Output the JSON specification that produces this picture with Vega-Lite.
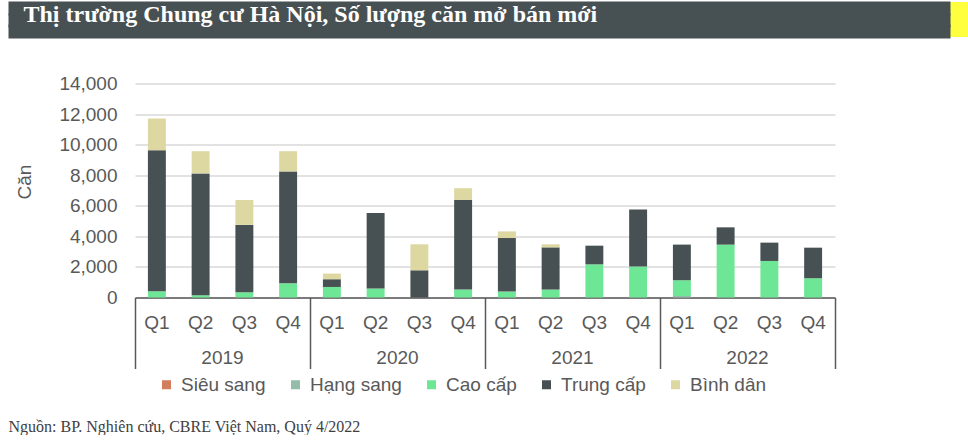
{
  "$schema": "https://vega.github.io/schema/vega-lite/v6.json",
  "padding": {"left": 1, "top": 1, "right": 0, "bottom": 0},
  "spacing": 36.5,
  "background": "white",
  "datasets": {
    "units": [
      {"yq": "2019-Q1", "year": "2019", "seg": "Cao cấp", "v": 410},
      {"yq": "2019-Q1", "year": "2019", "seg": "Trung cấp", "v": 9225},
      {"yq": "2019-Q1", "year": "2019", "seg": "Bình dân", "v": 2075},
      {"yq": "2019-Q2", "year": "2019", "seg": "Cao cấp", "v": 150},
      {"yq": "2019-Q2", "year": "2019", "seg": "Trung cấp", "v": 7970},
      {"yq": "2019-Q2", "year": "2019", "seg": "Bình dân", "v": 1450},
      {"yq": "2019-Q3", "year": "2019", "seg": "Cao cấp", "v": 345},
      {"yq": "2019-Q3", "year": "2019", "seg": "Trung cấp", "v": 4405},
      {"yq": "2019-Q3", "year": "2019", "seg": "Bình dân", "v": 1630},
      {"yq": "2019-Q4", "year": "2019", "seg": "Cao cấp", "v": 930},
      {"yq": "2019-Q4", "year": "2019", "seg": "Trung cấp", "v": 7320},
      {"yq": "2019-Q4", "year": "2019", "seg": "Bình dân", "v": 1320},
      {"yq": "2020-Q1", "year": "2020", "seg": "Cao cấp", "v": 690},
      {"yq": "2020-Q1", "year": "2020", "seg": "Trung cấp", "v": 505},
      {"yq": "2020-Q1", "year": "2020", "seg": "Bình dân", "v": 370},
      {"yq": "2020-Q2", "year": "2020", "seg": "Cao cấp", "v": 590},
      {"yq": "2020-Q2", "year": "2020", "seg": "Trung cấp", "v": 4930},
      {"yq": "2020-Q3", "year": "2020", "seg": "Trung cấp", "v": 1780},
      {"yq": "2020-Q3", "year": "2020", "seg": "Bình dân", "v": 1700},
      {"yq": "2020-Q4", "year": "2020", "seg": "Cao cấp", "v": 520},
      {"yq": "2020-Q4", "year": "2020", "seg": "Trung cấp", "v": 5870},
      {"yq": "2020-Q4", "year": "2020", "seg": "Bình dân", "v": 760},
      {"yq": "2021-Q1", "year": "2021", "seg": "Cao cấp", "v": 390},
      {"yq": "2021-Q1", "year": "2021", "seg": "Trung cấp", "v": 3500},
      {"yq": "2021-Q1", "year": "2021", "seg": "Bình dân", "v": 435},
      {"yq": "2021-Q2", "year": "2021", "seg": "Cao cấp", "v": 520},
      {"yq": "2021-Q2", "year": "2021", "seg": "Trung cấp", "v": 2760},
      {"yq": "2021-Q2", "year": "2021", "seg": "Bình dân", "v": 200},
      {"yq": "2021-Q3", "year": "2021", "seg": "Cao cấp", "v": 2170},
      {"yq": "2021-Q3", "year": "2021", "seg": "Trung cấp", "v": 1220},
      {"yq": "2021-Q4", "year": "2021", "seg": "Cao cấp", "v": 2020},
      {"yq": "2021-Q4", "year": "2021", "seg": "Trung cấp", "v": 3740},
      {"yq": "2022-Q1", "year": "2022", "seg": "Hạng sang", "v": 100},
      {"yq": "2022-Q1", "year": "2022", "seg": "Cao cấp", "v": 1030},
      {"yq": "2022-Q1", "year": "2022", "seg": "Trung cấp", "v": 2330},
      {"yq": "2022-Q2", "year": "2022", "seg": "Cao cấp", "v": 3460},
      {"yq": "2022-Q2", "year": "2022", "seg": "Trung cấp", "v": 1130},
      {"yq": "2022-Q3", "year": "2022", "seg": "Cao cấp", "v": 2390},
      {"yq": "2022-Q3", "year": "2022", "seg": "Trung cấp", "v": 1200},
      {"yq": "2022-Q4", "year": "2022", "seg": "Cao cấp", "v": 1260},
      {"yq": "2022-Q4", "year": "2022", "seg": "Trung cấp", "v": 2000}
    ]
  },
  "vconcat": [
    {
      "width": 833,
      "height": 35,
      "data": {"values": [{}]},
      "view": {"fill": "#ffff40", "stroke": null},
      "mark": {"type": "point", "opacity": 0},
      "encoding": {
        "x": {
          "datum": 0.5,
          "type": "quantitative",
          "scale": {"domain": [0, 1], "nice": false, "zero": false},
          "axis": null
        },
        "y": {
          "datum": 0.5,
          "type": "quantitative",
          "scale": {"domain": [0, 1], "nice": false, "zero": false},
          "axis": {
            "orient": "left",
            "offset": -815,
            "values": [0.1667, 0.5, 0.8333],
            "labels": false,
            "domain": false,
            "grid": false,
            "ticks": true,
            "tickSize": 942,
            "tickWidth": 14,
            "tickColor": "#475053",
            "title": "Thị trường Chung cư Hà Nội, Số lượng căn mở bán mới",
            "titleAngle": 0,
            "titleX": -927,
            "titleY": 19.5,
            "titleAlign": "left",
            "titleBaseline": "alphabetic",
            "titleFont": "Liberation Serif",
            "titleFontSize": 24,
            "titleFontWeight": "bold",
            "titleColor": "#ffffff"
          }
        }
      }
    },
    {
      "width": 700,
      "height": 214,
      "data": {"name": "units"},
      "layer": [
        {
          "transform": [
            {"window": [{"op": "row_number", "as": "stk"}], "groupby": ["yq"]}
          ],
          "mark": {"type": "bar"},
          "encoding": {
            "x": {
              "field": "yq",
              "type": "nominal",
              "scale": {"paddingInner": 0.59, "paddingOuter": 0.295},
              "axis": {
                "title": null,
                "labelExpr": "slice(datum.value, 5)",
                "labelAngle": 0,
                "ticks": false,
                "domain": true,
                "domainColor": "#595959",
                "domainWidth": 1.5,
                "grid": false,
                "labelPadding": 25,
                "labelBaseline": "middle",
                "labelFont": "Liberation Sans",
                "labelFontSize": 19,
                "labelColor": "#595959"
              }
            },
            "y": {
              "field": "v",
              "type": "quantitative",
              "stack": "zero",
              "scale": {"domain": [0, 14000], "nice": false},
              "axis": {
                "title": "Căn",
                "values": [0, 2000, 4000, 6000, 8000, 10000, 12000, 14000],
                "format": ",.0f",
                "grid": true,
                "gridColor": "#d9d9d9",
                "gridWidth": 1.5,
                "domain": false,
                "ticks": false,
                "labelPadding": 18,
                "labelFont": "Liberation Sans",
                "labelFontSize": 19,
                "labelColor": "#595959",
                "titleFont": "Liberation Sans",
                "titleFontSize": 19,
                "titleFontWeight": "normal",
                "titleColor": "#595959",
                "titlePadding": 24,
                "titleY": 98
              }
            },
            "order": {"field": "stk", "type": "quantitative", "sort": "ascending"},
            "color": {
              "field": "seg",
              "type": "nominal",
              "scale": {
                "domain": ["Siêu sang", "Hạng sang", "Cao cấp", "Trung cấp", "Bình dân"],
                "range": ["#d27d5c", "#93bdaa", "#6de695", "#475052", "#ddd7a2"]
              },
              "legend": {
                "title": null,
                "orient": "none",
                "legendX": 22,
                "legendY": 373,
                "direction": "horizontal",
                "symbolType": "square",
                "symbolSize": 81,
                "symbolStrokeWidth": 0,
                "labelFont": "Liberation Sans",
                "labelFontSize": 19,
                "labelColor": "#595959",
                "labelOffset": 5,
                "columnPadding": 20,
                "padding": 0
              }
            }
          }
        },
        {
          "mark": {"type": "bar", "opacity": 0},
          "encoding": {
            "x": {
              "field": "year",
              "type": "nominal",
              "scale": {"paddingInner": 0, "paddingOuter": 0},
              "axis": {
                "orient": "bottom",
                "title": "Nguồn: BP. Nghiên cứu, CBRE Việt Nam, Quý 4/2022",
                "titleX": -127,
                "titleY": 134.4,
                "titleAlign": "left",
                "titleAngle": 0,
                "titleBaseline": "alphabetic",
                "titleFont": "Liberation Serif",
                "titleFontSize": 16,
                "titleFontWeight": "normal",
                "titleColor": "#404040",
                "domain": false,
                "grid": false,
                "ticks": true,
                "tickSize": 71,
                "tickColor": "#595959",
                "tickWidth": 1.5,
                "bandPosition": 1,
                "tickExtra": true,
                "labelAngle": 0,
                "labelPadding": -11,
                "labelBaseline": "middle",
                "labelFont": "Liberation Sans",
                "labelFontSize": 19,
                "labelColor": "#595959"
              }
            }
          }
        }
      ],
      "resolve": {"scale": {"x": "independent"}, "axis": {"x": "independent"}}
    }
  ],
  "config": {
    "font": "Liberation Sans",
    "view": {"stroke": null}
  }
}
